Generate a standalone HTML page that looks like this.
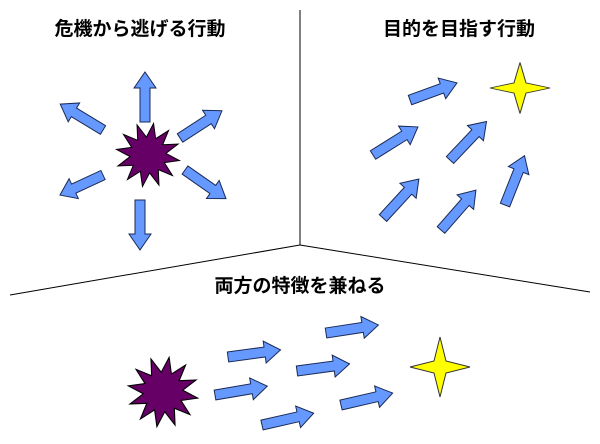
<!DOCTYPE html>
<html><head><meta charset="utf-8"><style>
html,body{margin:0;padding:0;background:#fff;width:600px;height:444px;overflow:hidden}
text{font-family:"Liberation Sans","Noto Sans CJK JP",sans-serif;font-weight:bold;font-size:19px;fill:#000}
</style></head><body>
<svg width="600" height="444" viewBox="0 0 600 444" xmlns="http://www.w3.org/2000/svg">
<defs>
<polygon id="a50" points="0,-5 34,-5 34,-11 50,0 34,11 34,5 0,5" fill="#6699ff" stroke="#1a2a55" stroke-width="1"/>
<polygon id="a53" points="0,-5 37,-5 37,-11 53,0 37,11 37,5 0,5" fill="#6699ff" stroke="#1a2a55" stroke-width="1"/>
<polygon id="boom" points="32,0 17.4,4.7 27.7,16 12.7,12.7 16,27.7 4.7,17.4 0,32 -4.7,17.4 -16,27.7 -12.7,12.7 -27.7,16 -17.4,4.7 -32,0 -17.4,-4.7 -27.7,-16 -12.7,-12.7 -16,-27.7 -4.7,-17.4 0,-32 4.7,-17.4 16,-27.7 12.7,-12.7 27.7,-16 17.4,-4.7" fill="#660066" stroke="#000" stroke-width="1"/>
<polygon id="star" points="0,-30 6,-6 30,0 6,6 0,30 -6,6 -30,0 -6,-6" fill="#ffff00" stroke="#333" stroke-width="1"/>
</defs>
<g stroke="#000" stroke-width="1">
<line x1="300" y1="10" x2="300" y2="245"/>
<line x1="300" y1="245" x2="590" y2="292"/>
<line x1="300" y1="245" x2="10" y2="295"/>
</g>
<text x="140" y="35" text-anchor="middle">危機から逃げる行動</text>
<text x="459" y="35" text-anchor="middle">目的を目指す行動</text>
<text x="300" y="292" text-anchor="middle">両方の特徴を兼ねる</text>

<use href="#a50" transform="translate(145,122) rotate(-90)"/>
<use href="#a50" transform="translate(103,130) rotate(-148.8)"/>
<use href="#a50" transform="translate(180,138) rotate(-33)"/>
<use href="#a50" transform="translate(103,175) rotate(155) scale(0.95,1)"/>
<use href="#a50" transform="translate(185,170) rotate(35)"/>
<use href="#a50" transform="translate(140,200) rotate(90)"/>
<use href="#boom" transform="translate(148,155) rotate(10)"/>

<use href="#a50" transform="translate(410,100) rotate(-20)"/>
<use href="#a53" transform="translate(373,155) rotate(-32)"/>
<use href="#a53" transform="translate(450,160) rotate(-46.5)"/>
<use href="#a53" transform="translate(383,218) rotate(-47.4)"/>
<use href="#a53" transform="translate(441,230) rotate(-48.8)"/>
<use href="#a53" transform="translate(505,205) rotate(-68.4)"/>
<use href="#star" transform="translate(520,88) scale(1,0.85)"/>

<use href="#a53" transform="translate(228,357) rotate(-7.7)"/>
<use href="#a53" transform="translate(215,395) rotate(-9.6)"/>
<use href="#a53" transform="translate(262,425) rotate(-12.8)"/>
<use href="#a53" transform="translate(297,371) rotate(-7.7)"/>
<use href="#a53" transform="translate(326,333) rotate(-8.7)"/>
<use href="#a53" transform="translate(341,405) rotate(-13)"/>
<use href="#boom" transform="translate(163,392) rotate(10) scale(1.1)"/>
<use href="#star" transform="translate(440,367)"/>
</svg>
</body></html>
